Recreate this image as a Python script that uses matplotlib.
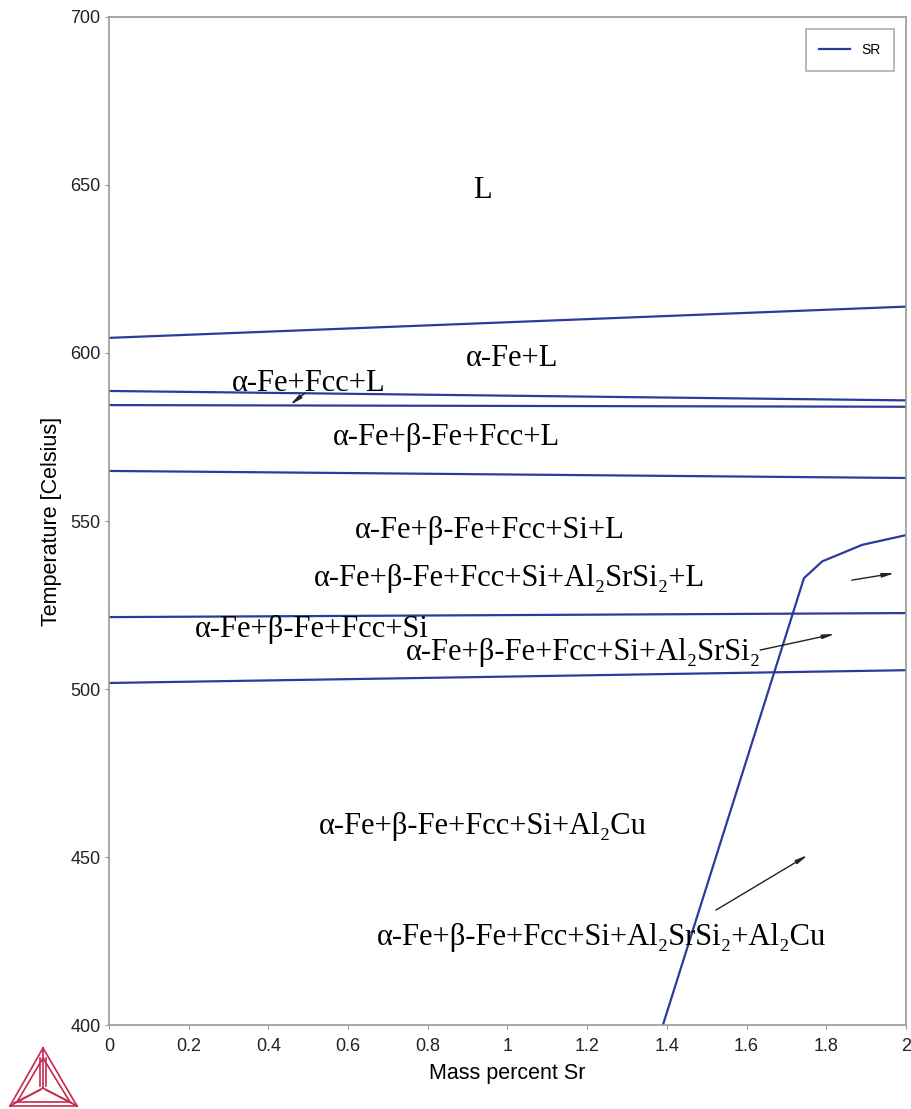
import matplotlib.pyplot as plt
from matplotlib.lines import Line2D

# phase boundary lines (mass % Sr, temperature C)
xs = [0, 2]
b1 = [604.5, 613.8]
b2 = [588.7, 585.9]
b3 = [584.5, 584.0]
b4 = [564.9, 562.8]
b5 = [521.4, 522.6]
b6 = [501.8, 505.6]
sr_x = [1.39, 1.744, 1.79, 1.89, 2.0]
sr_t = [400, 533.0, 538.0, 542.9, 545.8]

labels = ["L", "α-Fe+L", "α-Fe+Fcc+L", "α-Fe+β-Fe+Fcc+L", "α-Fe+β-Fe+Fcc+Si+L",
          "α-Fe+β-Fe+Fcc+Si+Al₂SrSi₂+L", "α-Fe+β-Fe+Fcc+Si",
          "α-Fe+β-Fe+Fcc+Si+Al₂SrSi₂", "α-Fe+β-Fe+Fcc+Si+Al₂Cu",
          "α-Fe+β-Fe+Fcc+Si+Al₂SrSi₂+Al₂Cu"]
label_x = [0.938, 1.011, 0.50, 0.846, 0.956, 1.004, 0.509, 1.19, 0.938, 1.237]
label_t = [648.5, 598.5, 591.0, 575.0, 547.3, 533.0, 517.6, 511.0, 459.2, 426.2]

# arrows: tail -> head
arr_x0 = [0.492, 1.864, 1.634, 1.523]
arr_t0 = [588.1, 532.4, 511.6, 434.2]
arr_x1 = [0.454, 1.972, 1.822, 1.754]
arr_t1 = [584.5, 534.5, 516.4, 450.6]

BLUE = "#2b3a9c"
GRAY = "#9a9a9a"
CRIMSON = "#c8284f"

plt.rcParams['font.family'] = ['Liberation Sans', 'DejaVu Sans']

fig = plt.figure(figsize=(9.12, 11.09), dpi=100)
ax = fig.add_axes([0.1195, 0.0757, 0.8739, 0.909])

for b in [b1, b2, b3, b4, b5, b6]:
    ax.plot(xs, b, color=BLUE, lw=1.6)
ax.plot(sr_x, sr_t, color=BLUE, lw=1.6, label="SR")

serif = ["Liberation Serif", "DejaVu Serif"]
for s, x, t in zip(labels, label_x, label_t):
    ax.text(x, t, s, ha="center", va="center", fontsize=22, family=serif)

for x0, t0, x1, t1 in zip(arr_x0, arr_t0, arr_x1, arr_t1):
    ax.annotate("", xy=(x1, t1), xytext=(x0, t0),
                arrowprops=dict(arrowstyle="-|>,head_length=0.7,head_width=0.12",
                                color="#222222", lw=1.0, shrinkA=0, shrinkB=0))

ax.set_xlim(0, 2)
ax.set_ylim(400, 700)
ax.set_xticks([0, 0.2, 0.4, 0.6, 0.8, 1, 1.2, 1.4, 1.6, 1.8, 2])
ax.set_xticklabels(["0", "0.2", "0.4", "0.6", "0.8", "1", "1.2", "1.4", "1.6", "1.8", "2"])
ax.set_yticks([400, 450, 500, 550, 600, 650, 700])
ax.tick_params(direction="out", length=3, color=GRAY, labelsize=13, labelcolor="#222222")
ax.tick_params(axis="y", pad=3)
ax.tick_params(axis="x", pad=6)
for sp in ax.spines.values():
    sp.set_color(GRAY)
    sp.set_linewidth(1.2)
ax.set_xlabel("Mass percent Sr", fontsize=15.5, labelpad=6)
ax.set_ylabel("Temperature [Celsius]", fontsize=15.5, labelpad=6)

leg = ax.legend(loc="upper right", fontsize=10, fancybox=False, edgecolor=GRAY,
                handlelength=2.2, borderpad=1.0, bbox_to_anchor=(0.994, 0.995))
leg.get_frame().set_linewidth(1.2)

# Thermo-Calc logo (figure pixel coords)
W, H = 912, 1109
def px(p):
    return (p[0] / W, 1 - p[1] / H)

apex, bl, br, c = (43, 1048), (10, 1106), (77, 1106), (43, 1088)
segs = [
    [apex, bl], [bl, br], [br, apex],
    [(43, 1058), (17, 1102)], [(17, 1102), (70, 1102)], [(70, 1102), (43, 1058)],
    [apex, c], [bl, c], [br, c],
    [(40, 1058), (40, 1086)], [(46, 1058), (46, 1086)],
    [(14, 1103), (40, 1090)], [(72, 1103), (46, 1090)],
]
for a, b in segs:
    pa, pb = px(a), px(b)
    fig.add_artist(Line2D([pa[0], pb[0]], [pa[1], pb[1]], color=CRIMSON, lw=1.2))

fig.savefig("out.png", dpi=100)
